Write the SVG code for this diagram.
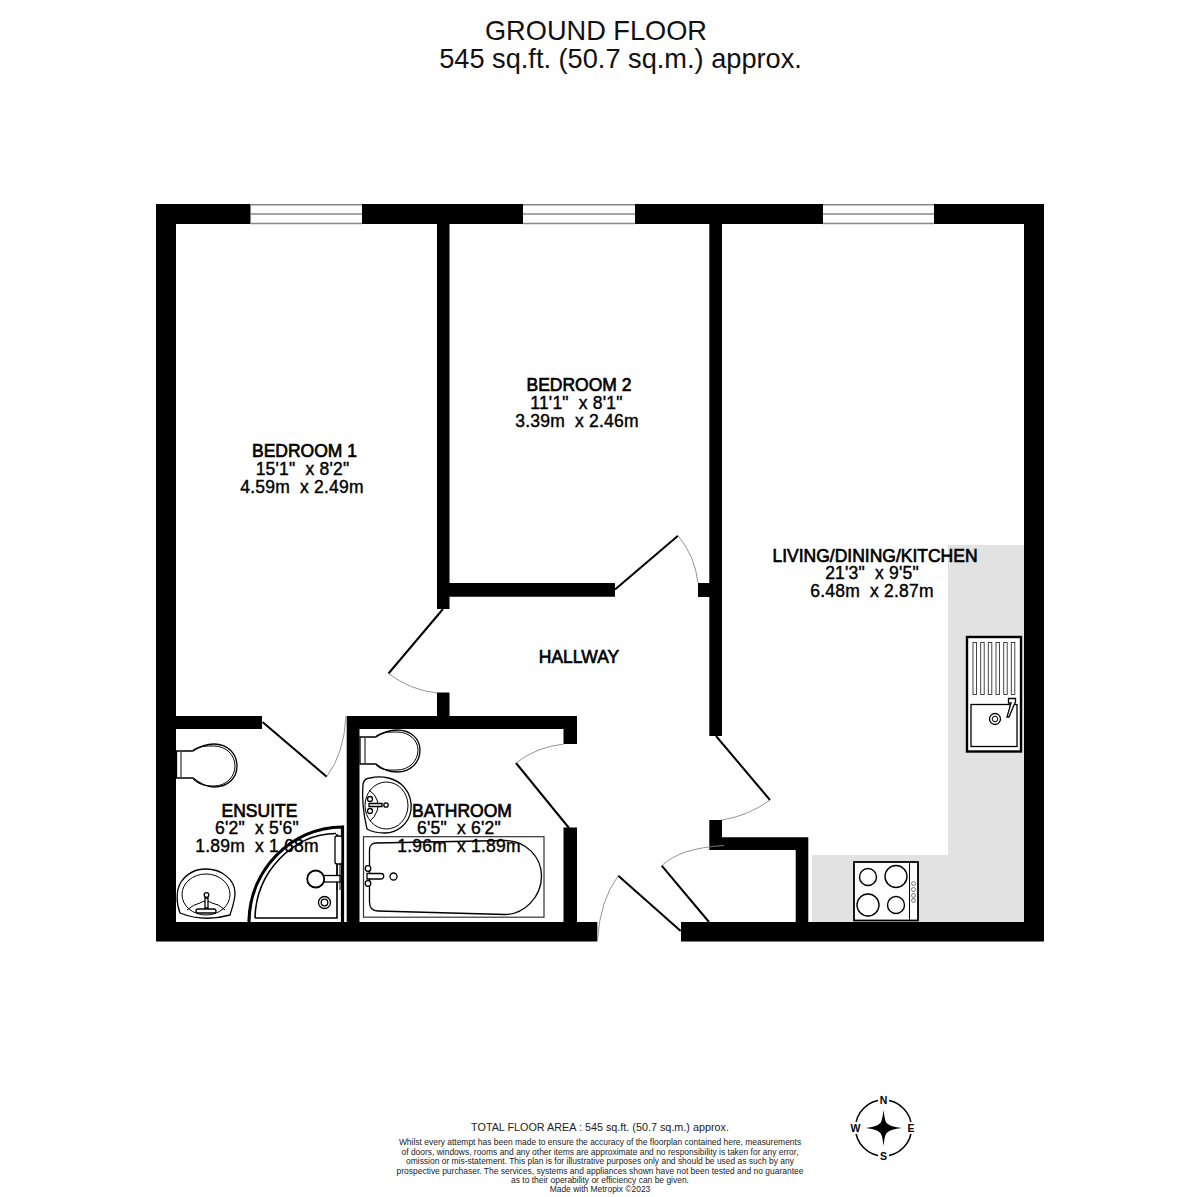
<svg xmlns="http://www.w3.org/2000/svg" width="1200" height="1197" viewBox="0 0 1200 1197">
<style>
text{font-family:"Liberation Sans",Arial,sans-serif;fill:#000;text-anchor:middle;white-space:pre}
.t{font-size:27.2px;fill:#111}
.h{font-size:17.5px;stroke:#000;stroke-width:.65px}
.d{font-size:17.5px;stroke:#000;stroke-width:.4px;letter-spacing:.2px}
.f1{font-size:10.8px;fill:#222}
.f2{font-size:8.46px;fill:#222}
.c{font-size:10.5px;font-weight:bold}
.w{fill:#000}
.door{fill:none;stroke:#000;stroke-width:2}
.arc{fill:none;stroke:#888;stroke-width:.9}
.win{stroke:#888;stroke-width:1.4;fill:none}
.l1{fill:none;stroke:#000;stroke-width:1}
.l2{fill:#fff;stroke:#000;stroke-width:1.3}
.l3{fill:#fff;stroke:#000;stroke-width:1.8}
.l4{fill:none;stroke:#000;stroke-width:2.4}
</style>
<rect width="1200" height="1197" fill="#fff"/>
<g id="title">
<text class="t" x="596" y="40">GROUND FLOOR</text>
<text class="t" x="620.500" y="68">545 sq.ft. (50.7 sq.m.) approx.</text>
</g>
<path id="kitchen-floor" d="M948 545H1024V922H812V855H948Z" fill="#e2e2e2"/>
<g id="walls">
<path class="w" d="M156 204H250.500V224H176V716H262V729H176V922H346.700V716H437V692.500H449.500V716H577V744H563.500V729H359.500V922H563.500V827.500H577V922H597.300V941.500H156Z"/>
<path class="w" d="M362 204H523V224H449.500V583H615V596.700H449.500V609H437V224H362Z"/>
<path class="w" d="M635 204H823V224H722V736H709.300V597H698V583H709.300V224H635Z"/>
<path class="w" d="M934 204H1044V941.500H681V922H795.700V850H709.300V820H722V837.300H808.300V922H1024V224H934Z"/>
</g>
<g id="windows">
<path class="win" d="M250.500 204.700H362M250.500 214H362M250.500 223.500H362"/>
<path class="win" d="M523 204.700H635M523 214H635M523 223.500H635"/>
<path class="win" d="M823 204.700H934M823 214H934M823 223.500H934"/>
</g>
<g id="doors">
<path class="door" d="M262.500 722L326.700 776.700"/><path class="arc" d="M326.700 776.700Q344 754 346 716"/>
<path class="door" d="M569 828L516 763"/><path class="arc" d="M516 763Q536 747 564 744"/>
<path class="door" d="M615 589.500L678 535.700"/><path class="arc" d="M678 535.700Q695 556 698 583"/>
<path class="door" d="M443 609L388.500 673.500"/><path class="arc" d="M388.500 673.500Q410 690 437 693"/>
<path class="door" d="M716 736L770 800"/><path class="arc" d="M770 800Q748 816 722 820"/>
<path class="door" d="M709 922L661.700 865.700"/><path class="arc" d="M661.700 865.700Q680 848 724 845.500"/>
<path class="door" d="M680.700 931L618.300 875.700"/><path class="arc" d="M618.300 875.700Q600 900 597.300 941"/>
</g>
<g id="ensuite-fixtures">
<g id="ensuite-wc">
<path class="l2" d="M176.500 751H193C199 747 205 744 214 744C228 744 237 754 237 766C237 778 228 787 214 787C205 787 199 783 193 778H176.500Z"/>
<path class="l1" d="M193 750C199 746 206 746 214 746C226 746 235 755 235 766C235 777 226 786 214 786C206 786 199 785 193 779M181 752V777"/>
</g>
<g id="ensuite-basin">
<path class="l2" d="M180 913C176 903 176 890 181 882C188 872 198 869 206 869C222 869 235 880 235 893C235 901 232 908 230 915C212 920 195 919 180 913Z"/>
<ellipse class="l1" cx="206" cy="894.500" rx="24" ry="20.500"/>
<path class="l1" d="M187 910Q194 904 200 903Q206 899 212 903Q219 904 225 910"/>
<circle class="l2" cx="206.500" cy="895" r="2.300"/>
<path class="l2" d="M205 898H208V908H205ZM198 909a2 2 0 1 0 0 4h16a2 2 0 1 0 0-4Z"/>
</g>
<g id="shower">
<path fill="none" stroke="#000" stroke-width="3.200" d="M249 922V921C250 870 290 828 342.500 827V922"/>
<path class="l1" style="stroke-width:1.600" d="M255 918C256 873 292 834 336 833.500M255 918H337V834"/>
<rect class="l2" x="335" y="836" width="7" height="28" rx="2"/>
<path class="l1" d="M337 864V890M340 864V890"/>
<rect class="l2" x="323" y="875.500" width="17" height="6.500"/>
<circle class="l3" cx="315.700" cy="879" r="8.500"/>
<circle class="l2" cx="324.500" cy="902.500" r="6"/>
<circle class="l2" cx="324.500" cy="902.500" r="3.300"/>
</g>
</g>
<g id="bathroom-fixtures">
<g id="bathroom-wc">
<path class="l2" d="M360 737H376C382 733 388 730 397 730C411 730 420 739 420 750C420 762 411 772 397 772C388 772 382 769 376 764H360Z"/>
<path class="l1" d="M376 736C382 732 389 732 397 732C409 732 418 740 418 750C418 761 409 770 397 770C389 770 382 771 376 765M365 738V763"/>
</g>
<g id="bathroom-basin">
<path class="l2" d="M370 778C382 775 396 778 404 787C410 794 412 801 411 810C409 824 397 833 385 833C378 833 372 832 367 829C363 812 362 795 363 784C364 780 367 778 370 778Z"/>
<ellipse class="l1" cx="386.500" cy="805.500" rx="21.500" ry="23.500"/>
<path class="l1" d="M369 790Q376 795 377 800Q380 806 377 811Q375 817 370 821"/>
<path class="l2" d="M369 803.500H382V806.500H369Z"/>
<circle class="l2" cx="370" cy="799" r="2.500"/><circle class="l2" cx="370" cy="811" r="2.500"/><circle class="l2" cx="386" cy="805" r="2.200"/>
</g>
<g id="bath">
<rect x="363.500" y="836.700" width="180.500" height="80.500" fill="#fff" stroke="#333" stroke-width="1.200"/>
<path class="l2" d="M376 843L505 840.500C526 840.500 541.500 857 541.500 876C541.500 897 524 914.500 505 914.500L378 911C372 911 369.500 907 369.500 902V850C369.500 846 372 843 376 843Z"/>
<path class="l2" d="M367 873.500H381a2.500 2.500 0 0 1 0 5.500H367Z"/><circle class="l2" cx="368" cy="868.500" r="2.800"/><circle class="l2" cx="368" cy="883.500" r="2.800"/>
<circle class="l2" cx="393.500" cy="876.500" r="3.500"/>
</g>
</g>
<g id="kitchen-fixtures">
<g id="sink">
<rect class="l4" x="967" y="637" width="54" height="114.500" fill="#fff" style="fill:#fff"/>
<rect class="l1" x="971" y="704.500" width="46" height="42" style="stroke-width:1.300"/>
<g fill="none" stroke="#333" stroke-width=".9">
<rect x="973" y="642.500" width="3.500" height="52"/><rect x="980.700" y="642.500" width="3.500" height="52"/><rect x="988.300" y="642.500" width="3.500" height="52"/><rect x="996" y="642.500" width="3.500" height="52"/><rect x="1003.700" y="642.500" width="3.500" height="52"/><rect x="1011.300" y="642.500" width="3.500" height="52"/>
</g>
<circle class="l1" cx="995" cy="719" r="5.500" style="stroke-width:1.300"/><circle class="l1" cx="995" cy="719" r="2.800"/>
<path class="l2" d="M1008.500 698.500H1015.500V702L1014 705L1009 717H1007L1011 703H1008.500Z"/>
</g>
<g id="hob">
<rect x="854" y="862" width="64" height="58.500" fill="#fff" stroke="#000" stroke-width="1.800"/>
<path class="l1" d="M909.500 862V920"/>
<g class="l1" style="stroke-width:1.400"><circle cx="868" cy="877" r="8.500"/><circle cx="896" cy="876.500" r="11"/><circle cx="868" cy="905" r="11"/><circle cx="896" cy="905" r="8.500"/></g>
<g fill="none" stroke="#444" stroke-width=".7"><circle cx="913.500" cy="883.500" r="2"/><circle cx="913.500" cy="889.500" r="2"/><circle cx="913.500" cy="895.500" r="2"/><circle cx="913.500" cy="900.500" r="2"/></g>
</g>
</g>
<g id="labels">
<text class="h" x="304.500" y="457">BEDROOM 1</text><text class="d" x="302.500" y="475">15'1"  x 8'2"</text><text class="d" x="302" y="493">4.59m  x 2.49m</text>
<text class="h" x="579" y="391">BEDROOM 2</text><text class="d" x="576.500" y="409">11'1"  x 8'1"</text><text class="d" x="577" y="427">3.39m  x 2.46m</text>
<text class="h" x="875" y="562">LIVING/DINING/KITCHEN</text><text class="d" x="872" y="579">21'3"  x 9'5"</text><text class="d" x="872" y="597">6.48m  x 2.87m</text>
<text class="h" x="579" y="663">HALLWAY</text>
<text class="h" x="259.500" y="816.700">ENSUITE</text><text class="d" x="257" y="834">6'2"  x 5'6"</text><text class="d" x="257" y="852">1.89m  x 1.68m</text>
<text class="h" x="462" y="816.700">BATHROOM</text><text class="d" x="459" y="834">6'5"  x 6'2"</text><text class="d" x="459" y="852">1.96m  x 1.89m</text>
</g>
<g id="footer">
<text class="f1" x="600" y="1130.500">TOTAL FLOOR AREA : 545 sq.ft. (50.7 sq.m.) approx.</text>
<text class="f2" x="600" y="1145">Whilst every attempt has been made to ensure the accuracy of the floorplan contained here, measurements</text>
<text class="f2" x="600" y="1154.500">of doors, windows, rooms and any other items are approximate and no responsibility is taken for any error,</text>
<text class="f2" x="600" y="1164">omission or mis-statement. This plan is for illustrative purposes only and should be used as such by any</text>
<text class="f2" x="600" y="1173.500">prospective purchaser. The services, systems and appliances shown have not been tested and no guarantee</text>
<text class="f2" x="600" y="1182.500">as to their operability or efficiency can be given.</text>
<text class="f2" x="600" y="1192">Made with Metropix ©2023</text>
</g>
<g id="compass">
<circle cx="883.500" cy="1128" r="28" fill="none" stroke="#000" stroke-width="1.500"/>
<path fill="#000" d="M883.500 1110Q885 1124 888 1124Q890 1126.500 902 1128Q890 1129.500 888 1132Q885 1132 883.500 1146Q882 1132 879 1132Q877 1129.500 865.500 1128Q877 1126.500 879 1124Q882 1124 883.500 1110Z"/>
<g fill="#fff">
<rect x="878" y="1094" width="11" height="12"/><rect x="878" y="1150" width="11" height="12"/><rect x="849" y="1122" width="12" height="12"/><rect x="906" y="1122" width="11" height="12"/>
</g>
<text class="c" x="883.500" y="1104">N</text><text class="c" x="883.500" y="1160">S</text><text class="c" x="855.500" y="1132">W</text><text class="c" x="911" y="1132">E</text>
</g>
</svg>
